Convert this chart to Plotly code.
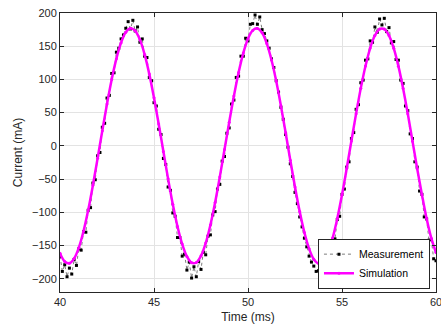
import numpy as np
import plotly.graph_objects as go

# Measurement samples (mA), every 0.125 ms from 40 ms
meas_start = 40.0
meas_step = 0.125
measurement = [
    -166, -189, -179, -197, -184, -193, -171, -180, -155, -157,
    -129, -130, -97, -93, -56, -51, -15, -10, 28, 34,
    72, 76, 109, 110, 141, 147, 161, 167, 177, 187,
    176, 189, 173, 179, 156, 161, 135, 133, 103, 98,
    65, 60, 25, 17, -19, -28, -62, -67, -101, -106,
    -138, -138, -166, -163, -187, -175, -199, -182, -197, -174,
    -186, -160, -164, -136, -134, -104, -99, -65, -58, -23,
    -16, 19, 27, 63, 69, 103, 105, 135, 135, 162,
    158, 183, 184, 197, 183, 194, 175, 169, 158, 147,
    131, 118, 98, 81, 58, 40, 17, -2, -27, -46,
    -70, -87, -107, -122, -139, -152, -166, -175, -181, -189,
    -188, -199, -179, -188, -165, -168, -141, -140, -111, -106,
    -73, -65, -32, -24, 11, 20, 55, 62, 95, 99,
    129, 131, 158, 156, 179, 171, 191, 182, 192, 172,
    178, 155, 157, 130, 129, 99, 94, 60, 53, 18,
    11, -24, -32, -68, -73, -107, -110, -142, -141, -170,
    -173,
]

# Simulation samples (mA), every 0.25 ms from 40 ms
sim_start = 40.0
sim_step = 0.25
simulation = [
    -161.7, -174.0, -176.8, -169.7, -153.3, -128.6, -96.7, -59.4, -18.8, 22.8,
    63.1, 100.0, 131.3, 155.4, 170.9, 176.9, 173.2, 159.9, 137.7, 108.0,
    72.3, 32.9, -8.6, -49.7, -88.0, -121.4, -147.9, -166.5, -175.9, -175.6,
    -165.6, -146.4, -119.1, -85.3, -46.7, -5.6, 35.6, 75.1, 110.5, 139.7,
    161.2, 173.8, 176.8, 170.1, 153.9, 129.2, 97.6, 60.5, 20.0, -21.6,
    -62.0, -99.0, -130.5, -154.8, -170.6, -176.9, -173.5, -160.5, -138.7, -109.2,
    -73.7, -34.1, 7.4, 48.5, 86.9, 120.3, 147.3, 166.1, 175.8, 175.8,
    166.0, 147.1, 120.0, 86.4, 48.2, 7.1, -34.4, -73.1, -109.5, -138.9,
    -160.7,
]

x_ticks = [40, 45, 50, 55, 60]
y_ticks = [-200, -150, -100, -50, 0, 50, 100, 150, 200]

t_meas = meas_start + meas_step * np.arange(len(measurement))
t_sim = sim_start + sim_step * np.arange(len(simulation))

fig = go.Figure()
fig.add_trace(go.Scatter(
    x=t_meas, y=measurement, mode="lines+markers", name="Measurement",
    line=dict(color="#444444", width=0.7, dash="dot"),
    marker=dict(color="black", size=3, symbol="square"),
))
fig.add_trace(go.Scatter(
    x=t_sim, y=simulation, mode="lines+markers", name="Simulation",
    line=dict(color="#ff00ff", width=2.5, shape="spline"),
    marker=dict(color="#ff00ff", size=3),
))

axis_common = dict(
    showline=True, linecolor="#262626", linewidth=1, mirror="ticks",
    ticks="inside", ticklen=4, tickcolor="#262626",
    showgrid=True, gridcolor="#e3e3e3", gridwidth=1, zeroline=False,
    automargin=False, ticklabeloverflow="allow",
    tickfont=dict(family="Liberation Sans, Arial, sans-serif", size=11, color="#262626"),
)

fig.update_layout(
    width=441, height=334,
    margin=dict(l=60, r=5, t=13, b=42),
    paper_bgcolor="white", plot_bgcolor="white",
    font=dict(family="Liberation Sans, Arial, sans-serif", size=11, color="#262626"),
    xaxis=dict(range=[40, 60], tickvals=x_ticks,
               title=dict(text="Time (ms)", standoff=5, font=dict(size=12)), **axis_common),
    yaxis=dict(range=[-220, 200], tickvals=y_ticks,
               title=dict(text="Current (mA)", standoff=6, font=dict(size=12)), **axis_common),
    legend=dict(x=0.984, y=0.012, xanchor="right", yanchor="bottom",
                bgcolor="white", bordercolor="#262626", borderwidth=1,
                font=dict(size=10.5, color="black"), itemwidth=30,
                tracegroupgap=0),
    showlegend=True,
)

fig.write_html("out.html", config={"displayModeBar": False},
               post_script="document.body.style.margin='0px';")
